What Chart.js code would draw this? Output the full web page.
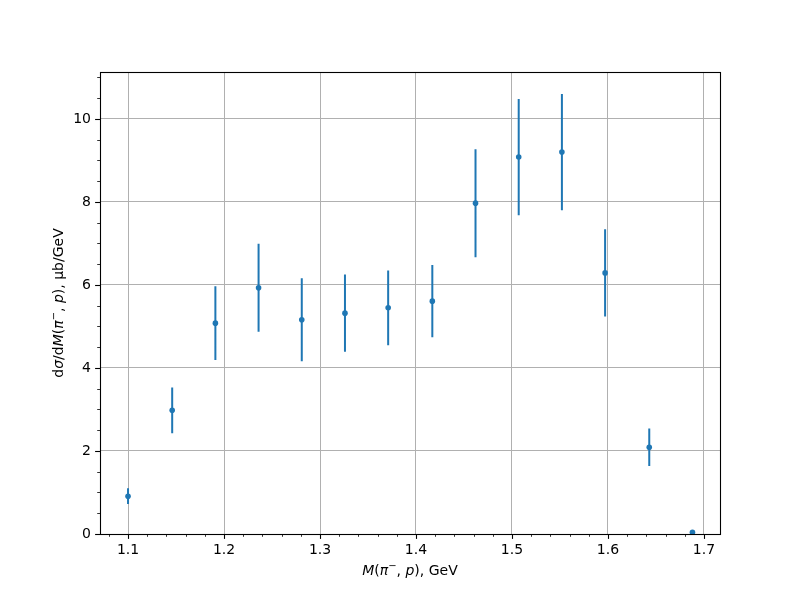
<!DOCTYPE html>
<html>
<head>
<meta charset="utf-8">
<script src="https://cdn.jsdelivr.net/npm/chart.js@4.4.0/dist/chart.umd.min.js"></script>
<style>
  html, body { margin: 0; padding: 0; background: #fff; }
  canvas { display: block; }
</style>
</head>
<body>
<canvas id="div1" width="800" height="600"></canvas>
<script>
// invariant mass bin centres, GeV
var massBins = [1.100, 1.146, 1.191, 1.236, 1.281, 1.326, 1.371, 1.417, 1.462, 1.507, 1.552, 1.597, 1.643, 1.688];
// dsigma/dM values and their errors, ub/GeV
var xsecValues = [0.91, 2.98, 5.08, 5.93, 5.16, 5.32, 5.45, 5.61, 7.97, 9.08, 9.20, 6.29, 2.09, 0.04];
var xsecErrors = [0.19, 0.55, 0.89, 1.06, 1.00, 0.93, 0.90, 0.87, 1.30, 1.40, 1.40, 1.05, 0.45, 0.02];

// tick labels
var xTicks = [1.1, 1.2, 1.3, 1.4, 1.5, 1.6, 1.7];
var yTicks = [0, 2, 4, 6, 8, 10];
var xLimits = [1.0708, 1.7167];
var yLimits = [0, 11.13];

// axis titles as runs: [text, style] where style is n(ormal), i(talic), s(uperscript)
var xTitle = [['M', 'i'], ['(', 'n'], ['π', 'i'], ['−', 's'], [', ', 'n'], ['p', 'i'], [')', 'n'], [', GeV', 'n']];
var yTitle = [['d', 'n'], ['σ', 'i'], ['/d', 'n'], ['M', 'i'], ['(', 'n'], ['π', 'i'], ['−', 's'], [', ', 'n'], ['p', 'i'], [')', 'n'], [', μb/GeV', 'n']];

var blue = '#1f77b4';
var fontName = 'DejaVu Sans';

Chart.defaults.font.family = fontName;
Chart.defaults.font.size = 14;
Chart.defaults.color = '#000';

// points of the data set
var points = massBins.map(function (m, i) { return {x: m, y: xsecValues[i]}; });

// error bars: one little line per point, null breaks the line between bars
var bars = [];
massBins.forEach(function (m, i) {
  bars.push({x: m, y: xsecValues[i] - xsecErrors[i]});
  bars.push({x: m, y: xsecValues[i] + xsecErrors[i]});
  bars.push({x: m, y: null});
});

// minor ticks like matplotlib's AutoMinorLocator
function minorTicks(major, n, lo, hi) {
  var step = (major[1] - major[0]) / n, out = [];
  for (var v = major[0] - step * n; v <= hi + 1e-9; v += step) {
    if (v >= lo - 1e-9) out.push(+v.toFixed(6));
  }
  return out;
}

function runFont(style) {
  if (style === 'i') return 'italic 14px "' + fontName + '"';
  if (style === 's') return '10px "' + fontName + '"';
  return '14px "' + fontName + '"';
}

// draws the mixed italic/superscript title centred on (0,0) baseline
function drawRuns(ctx, runs) {
  var total = 0;
  runs.forEach(function (r) { ctx.font = runFont(r[1]); total += ctx.measureText(r[0]).width; });
  var x = -total / 2;
  ctx.textAlign = 'left';
  ctx.textBaseline = 'alphabetic';
  runs.forEach(function (r) {
    ctx.font = runFont(r[1]);
    ctx.fillText(r[0], x, r[1] === 's' ? -6 : 0);
    x += ctx.measureText(r[0]).width;
  });
}

// frame + outward tick marks + axis titles
var framePlugin = {
  id: 'frame',
  afterDraw: function (chart) {
    var ctx = chart.ctx, a = chart.chartArea;
    var xs = chart.scales.x, ys = chart.scales.y;
    ctx.save();
    ctx.strokeStyle = '#000';

    ctx.lineWidth = 0.8;
    minorTicks(xTicks, 5, xLimits[0], xLimits[1]).forEach(function (v) {
      var px = Math.round(xs.getPixelForValue(v)) + 0.5;
      ctx.beginPath(); ctx.moveTo(px, a.bottom); ctx.lineTo(px, a.bottom + 2.8); ctx.stroke();
    });
    minorTicks(yTicks, 4, yLimits[0], yLimits[1]).forEach(function (v) {
      var py = Math.round(ys.getPixelForValue(v)) + 0.5;
      ctx.beginPath(); ctx.moveTo(a.left, py); ctx.lineTo(a.left - 2.8, py); ctx.stroke();
    });

    ctx.lineWidth = 1.1;
    xTicks.forEach(function (v) {
      var px = Math.round(xs.getPixelForValue(v)) + 0.5;
      ctx.beginPath(); ctx.moveTo(px, a.bottom); ctx.lineTo(px, a.bottom + 4.9); ctx.stroke();
    });
    yTicks.forEach(function (v) {
      var py = Math.round(ys.getPixelForValue(v)) + 0.5;
      ctx.beginPath(); ctx.moveTo(a.left, py); ctx.lineTo(a.left - 4.9, py); ctx.stroke();
    });

    ctx.strokeRect(Math.round(a.left) + 0.5, Math.round(a.top) + 0.5,
      Math.round(a.right - a.left), Math.round(a.bottom - a.top));

    // titles
    ctx.fillStyle = '#000';
    ctx.save();
    ctx.translate((a.left + a.right) / 2, 575);
    drawRuns(ctx, xTitle);
    ctx.restore();
    ctx.save();
    ctx.translate(63, (a.top + a.bottom) / 2);
    ctx.rotate(-Math.PI / 2);
    drawRuns(ctx, yTitle);
    ctx.restore();

    ctx.restore();
  }
};

new Chart(document.getElementById('div1'), {
  type: 'scatter',
  data: {
    datasets: [
      {
        label: 'data',
        data: points,
        backgroundColor: blue,
        borderColor: blue,
        borderWidth: 0,
        pointRadius: 2.8
      },
      {
        label: 'errors',
        data: bars,
        showLine: true,
        spanGaps: false,
        borderColor: blue,
        borderWidth: 2,
        pointRadius: 0
      }
    ]
  },
  options: {
    responsive: false,
    animation: false,
    layout: { padding: { left: 0, top: 72, right: 80, bottom: 0 } },
    plugins: { legend: { display: false }, tooltip: { enabled: false } },
    scales: {
      x: {
        type: 'linear',
        min: xLimits[0],
        max: xLimits[1],
        afterBuildTicks: function (ax) { ax.ticks = xTicks.map(function (v) { return {value: v}; }); },
        afterFit: function (ax) { ax.height = 66; },
        ticks: { padding: 8, maxRotation: 0, callback: function (v) { return v.toFixed(1); } },
        grid: { color: '#b0b0b0', lineWidth: 1, drawTicks: false },
        border: { display: false }
      },
      y: {
        type: 'linear',
        min: yLimits[0],
        max: yLimits[1],
        afterBuildTicks: function (ax) { ax.ticks = yTicks.map(function (v) { return {value: v}; }); },
        afterFit: function (ax) { ax.width = 100; },
        ticks: { padding: 9, callback: function (v) { return String(v); } },
        grid: { color: '#b0b0b0', lineWidth: 1, drawTicks: false },
        border: { display: false }
      }
    }
  },
  plugins: [framePlugin]
});
</script>
</body>
</html>
